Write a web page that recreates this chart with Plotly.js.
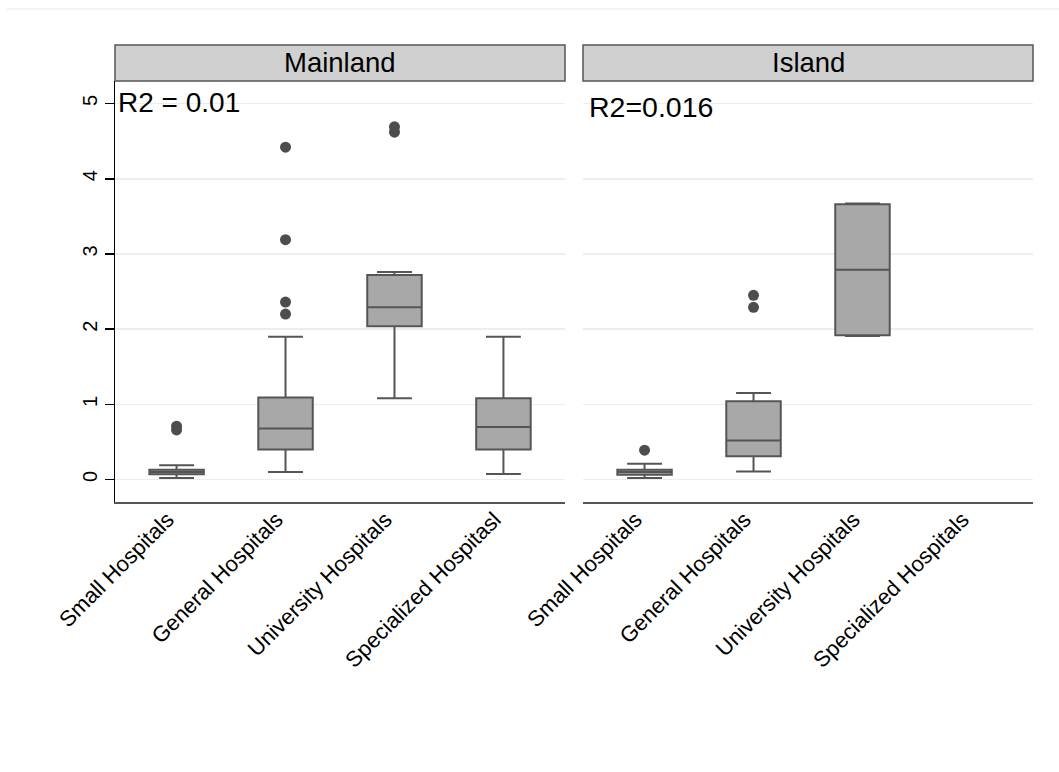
<!DOCTYPE html>
<html>
<head>
<meta charset="utf-8">
<script src="https://cdn.plot.ly/plotly-3.0.1.min.js"></script>
<style>html,body{margin:0;padding:0;background:#fff;}#chart{width:1059px;height:772px;}</style>
</head>
<body>
<div id="chart"></div>
<script>
// ---- Data ----
const categoriesMainland = ["Small Hospitals", "General Hospitals", "University Hospitals", "Specialized Hospitasl"];
const categoriesIsland = ["Small Hospitals", "General Hospitals", "University Hospitals", "Specialized Hospitals"];

const mainlandQ1 = [0.07, 0.40, 2.04, 0.40];
const mainlandMedian = [0.10, 0.68, 2.29, 0.70];
const mainlandQ3 = [0.13, 1.09, 2.72, 1.08];
const mainlandLower = [0.02, 0.10, 1.08, 0.075];
const mainlandUpper = [0.19, 1.90, 2.76, 1.90];
const mainlandOutlierCat = ["Small Hospitals", "Small Hospitals", "General Hospitals", "General Hospitals", "General Hospitals", "General Hospitals", "University Hospitals", "University Hospitals"];
const mainlandOutlierVal = [0.66, 0.71, 2.20, 2.36, 3.19, 4.42, 4.62, 4.69];

const islandBoxCats = ["Small Hospitals", "General Hospitals", "University Hospitals"];
const islandQ1 = [0.065, 0.31, 1.92];
const islandMedian = [0.10, 0.52, 2.79];
const islandQ3 = [0.13, 1.04, 3.66];
const islandLower = [0.02, 0.107, 1.91];
const islandUpper = [0.21, 1.15, 3.67];
const islandOutlierCat = ["Small Hospitals", "General Hospitals", "General Hospitals"];
const islandOutlierVal = [0.39, 2.29, 2.45];

const panelTitles = ["Mainland", "Island"];
const r2Labels = ["R2 = 0.01", "R2=0.016"];
const yTickVals = [0, 1, 2, 3, 4, 5];

// ---- Styles ----
const FONT = "Liberation Sans, Arial, sans-serif";
const lineCol = "#555555";
const fillCol = "#a8a8a8";
const gridCol = "#e9eff1";

function boxTrace(cats, q1, med, q3, lo, hi, xa, ya) {
  return {
    type: "box", x: cats, q1: q1, median: med, q3: q3,
    lowerfence: lo, upperfence: hi,
    xaxis: xa, yaxis: ya,
    width: 0.5, whiskerwidth: 0.64,
    fillcolor: fillCol, line: {color: lineCol, width: 2},
    boxpoints: false, showlegend: false, hoverinfo: "y"
  };
}
function outlierTrace(cats, vals, xa, ya) {
  return {
    type: "scatter", mode: "markers", x: cats, y: vals,
    xaxis: xa, yaxis: ya,
    marker: {color: "#4d4d4d", size: 11},
    showlegend: false, hoverinfo: "y"
  };
}

const data = [
  boxTrace(categoriesMainland, mainlandQ1, mainlandMedian, mainlandQ3, mainlandLower, mainlandUpper, "x", "y"),
  outlierTrace(mainlandOutlierCat, mainlandOutlierVal, "x", "y"),
  boxTrace(islandBoxCats, islandQ1, islandMedian, islandQ3, islandLower, islandUpper, "x2", "y2"),
  outlierTrace(islandOutlierCat, islandOutlierVal, "x2", "y2")
];

const W = 1059, H = 772;
const L = 115, R = 26, T = 81, B = 270;
const pw = W - L - R, ph = H - T - B;
const d1 = [0, 450 / pw];
const d2 = [(583 - L) / pw, 1];
const xr = [-0.565, 3.565];
const yr = [-0.299, 5.30];
const hdrTop = 1 + 36 / ph;

const xCommon = {
  type: "category", range: xr, tickangle: -45, showgrid: false, zeroline: false,
  showline: true, linecolor: lineCol, linewidth: 2, ticks: "",
  ticklabelshift: -9, ticklabelstandoff: -6,
  tickfont: {family: FONT, size: 22, color: "#000"}, fixedrange: true
};
const yCommon = {
  range: yr, showgrid: true, gridcolor: gridCol, gridwidth: 1.5, zeroline: false,
  tickvals: yTickVals, fixedrange: true
};

const layout = {
  width: W, height: H,
  margin: {l: L, r: R, t: T, b: B},
  paper_bgcolor: "#fff", plot_bgcolor: "#fff",
  showlegend: false,
  xaxis: Object.assign({}, xCommon, {domain: d1, anchor: "y", categoryorder: "array", categoryarray: categoriesMainland}),
  xaxis2: Object.assign({}, xCommon, {domain: d2, anchor: "y2", categoryorder: "array", categoryarray: categoriesIsland}),
  yaxis: Object.assign({}, yCommon, {
    anchor: "x", showline: true, linecolor: "#000", linewidth: 1.5,
    ticks: "outside", ticklen: 9, tickwidth: 1.5, tickcolor: "#000",
    tickangle: -90, tickfont: {family: FONT, size: 20, color: "#000"}
  }),
  yaxis2: Object.assign({}, yCommon, {anchor: "x2", showline: false, showticklabels: false, ticks: ""}),
  shapes: [
    {type: "rect", xref: "paper", yref: "paper", x0: d1[0], x1: d1[1], y0: 1, y1: hdrTop,
     fillcolor: "#d0d0d0", line: {color: lineCol, width: 1.5}, layer: "below"},
    {type: "rect", xref: "paper", yref: "paper", x0: d2[0], x1: d2[1], y0: 1, y1: hdrTop,
     fillcolor: "#d0d0d0", line: {color: lineCol, width: 1.5}, layer: "below"},
    {type: "line", xref: "paper", yref: "paper", x0: (7 - L) / pw, x1: (W - L) / pw,
     y0: (H - B - 9) / ph, y1: (H - B - 9) / ph, line: {color: "#eef2f3", width: 1.5}}
  ],
  annotations: [
    {xref: "paper", yref: "paper", x: (d1[0] + d1[1]) / 2, y: (1 + hdrTop) / 2, text: panelTitles[0],
     showarrow: false, xanchor: "center", yanchor: "middle", font: {family: FONT, size: 27.5, color: "#000"}},
    {xref: "paper", yref: "paper", x: (d2[0] + d2[1]) / 2, y: (1 + hdrTop) / 2, text: panelTitles[1],
     showarrow: false, xanchor: "center", yanchor: "middle", font: {family: FONT, size: 27.5, color: "#000"}},
    {xref: "x domain", yref: "y", x: 0.002, y: 5.01, text: r2Labels[0],
     showarrow: false, xanchor: "left", yanchor: "middle", font: {family: FONT, size: 28, color: "#000"}},
    {xref: "x2 domain", yref: "y2", x: 0.009, y: 4.95, text: r2Labels[1],
     showarrow: false, xanchor: "left", yanchor: "middle", font: {family: FONT, size: 28.5, color: "#000"}}
  ]
};

Plotly.newPlot("chart", data, layout, {displayModeBar: false, staticPlot: true});
</script>
</body>
</html>
